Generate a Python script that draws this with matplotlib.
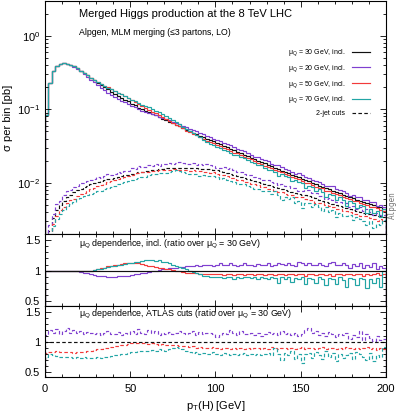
import numpy as np
import matplotlib
matplotlib.use("Agg")
from matplotlib import pyplot as plt
from matplotlib.lines import Line2D
from matplotlib.ticker import MultipleLocator, FixedLocator, FixedFormatter

plt.rcParams['font.family'] = ['Liberation Sans', 'DejaVu Sans']
plt.rcParams['mathtext.fontset'] = 'custom'
plt.rcParams['mathtext.rm'] = 'Liberation Sans'
plt.rcParams['mathtext.it'] = 'Liberation Sans:italic'

c_k = "#111111"
c_p = "#7f3fd0"
c_r = "#f23a3a"
c_c = "#22a5a5"

# pT binning (2 GeV bins, 0-200 GeV)
edges = np.arange(0, 202, 2)

# sigma per bin [pb], mu_Q = 30 GeV, inclusive
ref_incl = [0.085, 0.23, 0.33, 0.385, 0.415, 0.425, 0.42, 0.405, 0.385, 0.362,
            0.338, 0.315, 0.292, 0.27, 0.25, 0.232, 0.215, 0.2, 0.187, 0.175,
            0.164, 0.154, 0.145, 0.136, 0.128, 0.12, 0.113, 0.106, 0.1, 0.096,
            0.091, 0.087, 0.083, 0.079, 0.075, 0.071, 0.068, 0.065, 0.062, 0.059,
            0.056, 0.053, 0.051, 0.048, 0.046, 0.044, 0.042, 0.040, 0.038, 0.0365,
            0.0348, 0.0333, 0.0318, 0.0303, 0.029, 0.0277, 0.0264, 0.0252, 0.0241, 0.023,
            0.022, 0.021, 0.020, 0.0191, 0.0183, 0.0175, 0.0167, 0.016, 0.0153, 0.0146,
            0.014, 0.0134, 0.0128, 0.0123, 0.0118, 0.0113, 0.0108, 0.0104, 0.0099, 0.0095,
            0.0091, 0.0088, 0.0084, 0.0081, 0.0078, 0.0075, 0.0072, 0.0069, 0.0066, 0.0064,
            0.0061, 0.0059, 0.0057, 0.0055, 0.0053, 0.0051, 0.0049, 0.0047, 0.0046, 0.0044]

# sigma per bin [pb], mu_Q = 30 GeV, 2-jet (ATLAS) cuts
ref_cut = [0.0012, 0.0022, 0.0033, 0.0042, 0.005, 0.0057, 0.0063, 0.0069, 0.0074, 0.0079,
           0.0083, 0.0087, 0.0091, 0.0095, 0.0098, 0.0102, 0.0105, 0.0108, 0.0111, 0.0114,
           0.0117, 0.012, 0.0123, 0.0126, 0.0129, 0.0132, 0.0135, 0.0138, 0.014, 0.0143,
           0.0146, 0.0149, 0.0151, 0.0153, 0.0155, 0.0157, 0.0158, 0.0159, 0.016, 0.016,
           0.016, 0.016, 0.0159, 0.0158, 0.0157, 0.0156, 0.0155, 0.0154, 0.0153, 0.0151,
           0.0148, 0.0144, 0.014, 0.0136, 0.0132, 0.0128, 0.0124, 0.012, 0.0116, 0.0113,
           0.0109, 0.0106, 0.0102, 0.0099, 0.0096, 0.0093, 0.009, 0.0087, 0.0084, 0.0082,
           0.0079, 0.0077, 0.0075, 0.0073, 0.0071, 0.0069, 0.0067, 0.0065, 0.0063, 0.0061,
           0.0059, 0.0057, 0.0055, 0.0053, 0.0052, 0.005, 0.0048, 0.0047, 0.0045, 0.0044,
           0.0043, 0.0041, 0.004, 0.0039, 0.0038, 0.0037, 0.0036, 0.0035, 0.0035, 0.0034]

# ratios over mu_Q = 30 GeV, inclusive
r20_incl = [1.0, 1.0, 1.0, 1.0, 1.0, 1.0, 1.0, 1.0, 0.995, 0.99,
            0.98, 0.97, 0.955, 0.94, 0.93, 0.92, 0.91, 0.905, 0.9, 0.9,
            0.9, 0.905, 0.91, 0.915, 0.92, 0.93, 0.94, 0.95, 0.96, 0.97,
            0.98, 0.99, 1.0, 1.01, 1.02, 1.03, 1.04, 1.05, 1.05, 1.06,
            1.06, 1.08, 1.07, 1.08, 1.09, 1.08, 1.1, 1.09, 1.1, 1.08,
            1.1, 1.12, 1.09, 1.1, 1.13, 1.1, 1.08, 1.1, 1.12, 1.09,
            1.1, 1.08, 1.11, 1.09, 1.1, 1.12, 1.08, 1.1, 1.13, 1.11,
            1.09, 1.12, 1.1, 1.08, 1.14, 1.12, 1.1, 1.13, 1.09, 1.1,
            1.12, 1.1, 1.08, 1.12, 1.14, 1.1, 1.09, 1.12, 1.1, 1.04,
            1.11, 1.08, 1.12, 1.05, 1.1, 1.06, 1.13, 1.02, 1.08, 1.05]
r50_incl = [1.0, 1.0, 1.0, 1.0, 1.0, 1.0, 1.0, 1.0, 1.0, 1.0,
            1.0, 1.0, 1.0, 1.0, 1.01, 1.02, 1.04, 1.05, 1.07, 1.08,
            1.09, 1.1, 1.11, 1.12, 1.12, 1.13, 1.13, 1.12, 1.11, 1.1,
            1.08, 1.07, 1.06, 1.05, 1.04, 1.03, 1.02, 1.01, 1.0, 0.99,
            0.98, 0.97, 0.97, 0.96, 0.96, 0.95, 0.95, 0.94, 0.95, 0.94,
            0.94, 0.95, 0.93, 0.94, 0.94, 0.93, 0.95, 0.94, 0.93, 0.94,
            0.95, 0.93, 0.94, 0.94, 0.93, 0.95, 0.94, 0.93, 0.94, 0.95,
            0.93, 0.94, 0.95, 0.93, 0.94, 0.94, 0.92, 0.95, 0.94, 0.93,
            0.94, 0.95, 0.93, 0.94, 0.92, 0.95, 0.94, 0.93, 0.95, 0.94,
            0.93, 0.95, 0.94, 0.92, 0.95, 0.93, 0.94, 0.96, 0.93, 0.95]
r70_incl = [1.0, 1.0, 1.0, 1.0, 1.0, 1.0, 1.0, 1.0, 1.0, 1.0,
            1.0, 1.0, 1.0, 1.0, 1.01, 1.02, 1.03, 1.05, 1.06, 1.07,
            1.08, 1.09, 1.1, 1.11, 1.12, 1.13, 1.14, 1.15, 1.16, 1.17,
            1.17, 1.17, 1.16, 1.17, 1.15, 1.14, 1.12, 1.1, 1.08, 1.06,
            1.04, 1.02, 1.0, 0.98, 0.96, 0.94, 0.92, 0.91, 0.9, 0.9,
            0.89, 0.9, 0.88, 0.9, 0.89, 0.87, 0.9, 0.88, 0.89, 0.9,
            0.88, 0.89, 0.87, 0.9, 0.88, 0.86, 0.89, 0.88, 0.8, 0.89,
            0.87, 0.9, 0.82, 0.88, 0.86, 0.89, 0.78, 0.88, 0.87, 0.8,
            0.89, 0.86, 0.76, 0.88, 0.87, 0.78, 0.89, 0.85, 0.74, 0.88,
            0.86, 0.76, 0.88, 0.87, 0.72, 0.86, 0.8, 0.88, 0.74, 1.0]

# ratios over mu_Q = 30 GeV, ATLAS cuts
r20_cut = [1.12, 1.2, 1.15, 1.22, 1.13, 1.18, 1.24, 1.15, 1.2, 1.16,
           1.18, 1.14, 1.17, 1.15, 1.13, 1.16, 1.12, 1.15, 1.18, 1.13,
           1.14, 1.17, 1.12, 1.15, 1.13, 1.19, 1.14, 1.22, 1.16, 1.13,
           1.2, 1.15, 1.18, 1.12, 1.16, 1.14, 1.17, 1.13, 1.15, 1.19,
           1.16, 1.13, 1.15, 1.18, 1.12, 1.17, 1.14, 1.16, 1.15, 1.13,
           1.08, 1.12, 1.16, 1.14, 1.2, 1.15, 1.12, 1.18, 1.14, 1.13,
           1.16, 1.12, 1.15, 1.1, 1.14, 1.17, 1.13, 1.15, 1.12, 1.18,
           1.14, 1.16, 1.12, 1.15, 1.1, 1.13, 1.2, 1.24, 1.16, 1.18,
           1.12, 1.15, 1.1, 1.17, 1.13, 1.08, 1.14, 1.12, 1.16, 1.05,
           1.12, 1.08, 1.18, 1.04, 1.14, 1.07, 1.02, 1.1, 1.04, 1.06]
r50_cut = [0.82, 0.84, 0.83, 0.85, 0.84, 0.83, 0.84, 0.83, 0.82, 0.83,
           0.84, 0.83, 0.85, 0.86, 0.87, 0.88, 0.89, 0.9, 0.91, 0.92,
           0.93, 0.94, 0.95, 0.96, 0.97, 0.98, 0.99, 0.98, 0.99, 0.98,
           0.97, 0.98, 0.97, 0.96, 0.97, 0.96, 0.95, 0.96, 0.95, 0.94,
           0.93, 0.94, 0.92, 0.93, 0.91, 0.92, 0.9, 0.91, 0.9, 0.92,
           0.9, 0.89, 0.91, 0.9, 0.88, 0.9, 0.89, 0.91, 0.88, 0.9,
           0.89, 0.91, 0.9, 0.88, 0.9, 0.89, 0.92, 0.9, 0.88, 0.91,
           0.9, 0.89, 0.91, 0.88, 0.9, 0.92, 0.89, 0.9, 0.91, 0.88,
           0.9, 0.92, 0.89, 0.91, 0.9, 0.88, 0.91, 0.89, 0.92, 0.9,
           0.88, 0.91, 0.89, 0.9, 0.92, 0.88, 0.9, 0.87, 0.91, 0.89]
r70_cut = [0.76, 0.8, 0.78, 0.77, 0.76, 0.75, 0.76, 0.75, 0.74, 0.75,
           0.74, 0.75, 0.74, 0.73, 0.74, 0.75, 0.74, 0.75, 0.76, 0.77,
           0.78, 0.79, 0.8, 0.81, 0.82, 0.83, 0.84, 0.85, 0.86, 0.85,
           0.86, 0.87, 0.86, 0.88, 0.87, 0.86, 0.88, 0.9, 0.92, 0.9,
           0.88, 0.86, 0.84, 0.82, 0.83, 0.8, 0.82, 0.81, 0.8, 0.83,
           0.8, 0.78, 0.82, 0.8, 0.79, 0.81, 0.78, 0.8, 0.82, 0.79,
           0.8, 0.78, 0.81, 0.79, 0.8, 0.82, 0.78, 0.9, 0.8, 0.7,
           0.82, 0.78, 0.85, 0.72, 0.8, 0.66, 0.8, 0.82, 0.74, 0.84,
           0.78, 0.72, 0.86, 0.76, 0.82, 0.68, 0.8, 0.74, 0.78, 0.82,
           0.72, 0.84, 0.8, 0.76, 0.7, 0.82, 0.68, 0.78, 0.76, 0.92]

labels = [r"μ$_{\rm Q}$ = 30 GeV, incl.", r"μ$_{\rm Q}$ = 20 GeV, incl.",
          r"μ$_{\rm Q}$ = 50 GeV, incl.", r"μ$_{\rm Q}$ = 70 GeV, incl.", "2-jet cuts"]

ref_incl = np.array(ref_incl)
ref_cut = np.array(ref_cut)
incl = [ref_incl, ref_incl * np.array(r20_incl), ref_incl * np.array(r50_incl), ref_incl * np.array(r70_incl)]
cut = [ref_cut, ref_cut * np.array(r20_cut), ref_cut * np.array(r50_cut), ref_cut * np.array(r70_cut)]
cols = [c_k, c_p, c_r, c_c]
dash = (0, (3, 2))
lw = 0.85

fig = plt.figure(figsize=(3.99, 4.12), dpi=100)
ax0 = fig.add_axes([0.113, 0.432, 0.854, 0.5656])
ax1 = fig.add_axes([0.113, 0.257, 0.854, 0.175])
ax2 = fig.add_axes([0.113, 0.085, 0.854, 0.172])

for i in range(4):
    ax0.stairs(cut[i], edges, color=cols[i], lw=lw, ls=dash)
for i in range(4):
    ax0.stairs(incl[i], edges, color=cols[i], lw=lw)
ax0.set_yscale("log")
ax0.set_ylim(2e-3, 3)

for i in [1, 2, 3, 0]:
    ax1.stairs(incl[i] / ref_incl, edges, color=cols[i], lw=lw)
for i in [1, 2, 3, 0]:
    ax2.stairs(cut[i] / ref_cut, edges, color=cols[i], lw=lw, ls=dash)

hl = [Line2D([], [], color=c, lw=lw) for c in cols] + [Line2D([], [], color=c_k, lw=lw, ls=dash)]
ax0.legend(hl, labels, loc="upper right", bbox_to_anchor=(0.955, 0.80), frameon=False,
           fontsize=5, markerfirst=False, handlelength=2.6, handletextpad=1.0,
           labelspacing=0.7, borderpad=0, borderaxespad=0)

ax0.text(0.1, 0.944, "Merged Higgs production at the 8 TeV LHC", transform=ax0.transAxes,
         fontsize=8, va="center")
ax0.text(0.1, 0.863, "Alpgen, MLM merging (≤3 partons, LO)", transform=ax0.transAxes,
         fontsize=6.3, va="center")
ax1.text(0.1, 0.86, r"μ$_{\rm Q}$ dependence, incl. (ratio over μ$_{\rm Q}$ = 30 GeV)",
         transform=ax1.transAxes, fontsize=6.4, va="center")
ax2.text(0.1, 0.88, r"μ$_{\rm Q}$ dependence, ATLAS cuts (ratio over μ$_{\rm Q}$ = 30 GeV)",
         transform=ax2.transAxes, fontsize=6.4, va="center")

for ax in [ax0, ax1, ax2]:
    ax.set_xlim(0, 200)
    ax.xaxis.set_major_locator(MultipleLocator(50))
    ax.xaxis.set_minor_locator(MultipleLocator(10))
    ax.tick_params(which="both", direction="in", top=True, right=True, labelsize=8, width=0.6)
    ax.tick_params(which="major", length=4)
    ax.tick_params(which="minor", length=2)
    ax.tick_params(axis="x", pad=5)
    for s in ax.spines.values():
        s.set_linewidth(0.8)
for ax in [ax1, ax2]:
    ax.set_ylim(0.42, 1.6)
    ax.yaxis.set_major_locator(FixedLocator([0.5, 1, 1.5]))
    ax.yaxis.set_major_formatter(FixedFormatter(["0.5", "1", "1.5"]))
    ax.yaxis.set_minor_locator(MultipleLocator(0.1))
ax0.tick_params(labelbottom=False)
ax1.tick_params(labelbottom=False)

ax2.set_xlabel(r"p$_{\rm T}$(H) [GeV]", fontsize=8, labelpad=4)
fig.text(0.02, 0.714, "σ per bin [pb]", rotation=90, va="center", ha="center", fontsize=8)
fig.text(0.983, 0.502, "Alpgen", rotation=90, va="center", ha="center", fontsize=5.5,
         family="DejaVu Sans Mono", color="#777777")

plt.savefig("out.png", dpi=100)
